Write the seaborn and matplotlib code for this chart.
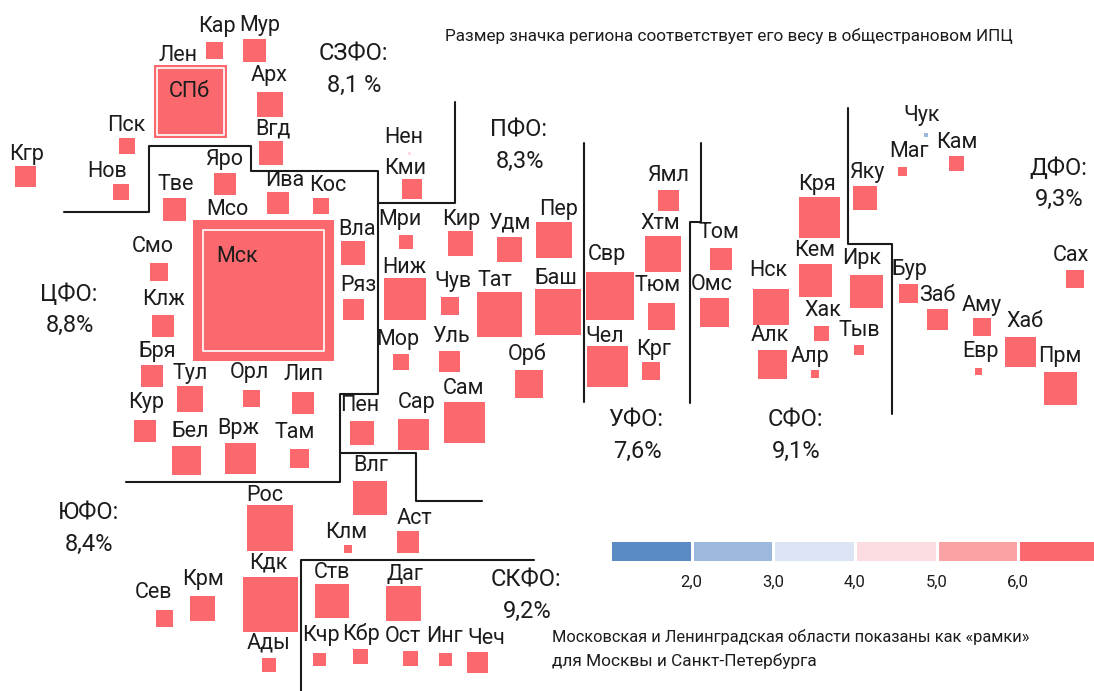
import numpy as np
import pandas as pd
import seaborn as sns
import matplotlib.pyplot as plt

# tile map of regions: grid coordinates are in reference pixels
REGIONS = ['Кар', 'Мур', 'Лен', 'Арх', 'Вгд', 'Пск', 'Нов', 'Кгр', 'Тве', 'Яро', 'Ива', 'Кос', 'Мск',
           'Смо', 'Клж', 'Вла', 'Ряз', 'Бря', 'Тул', 'Орл', 'Лип', 'Кур', 'Бел', 'Врж', 'Там',
           'Нен', 'Кми', 'Мри', 'Ниж', 'Кир', 'Удм', 'Пер', 'Чув', 'Тат', 'Баш', 'Мор', 'Уль', 'Орб',
           'Сам', 'Пен', 'Сар', 'Влг', 'Рос', 'Клм', 'Аст', 'Крм', 'Сев', 'Кдк', 'Ады', 'Ств',
           'Даг', 'Кчр', 'Кбр', 'Ост', 'Инг', 'Чеч', 'Свр', 'Ямл', 'Хтм', 'Тюм', 'Чел', 'Крг',
           'Том', 'Омс', 'Кря', 'Нск', 'Кем', 'Хак', 'Алк', 'Алр', 'Тыв', 'Ирк', 'Яку', 'Маг',
           'Чук', 'Кам', 'Бур', 'Заб', 'Аму', 'Евр', 'Хаб', 'Прм', 'Сах']
GRID_X = [214.5, 254, 190, 270, 271, 127, 121, 25, 174, 225, 278, 321, 263.5,
          158.5, 162.5, 353, 353, 151.5, 190, 251.5, 302.5, 145, 186.5, 240.5, 299,
          409.5, 412, 406, 405, 460, 509.5, 554, 449.5, 499.5, 558, 401, 449.5, 528.5,
          464, 361.5, 413.5, 370, 270, 348, 408, 202.5, 164.5, 270, 269, 332,
          403.5, 319.5, 360.5, 410.5, 445, 477.5, 610, 668.5, 663, 661, 607, 651,
          721, 714.5, 819.5, 771, 815, 821.5, 772.5, 815, 859, 866.5, 865, 902.5,
          926, 956.5, 908.5, 937, 981.5, 978, 1020.5, 1060.5, 1074.5]
GRID_Y = [50, 50, 101.5, 104.5, 153, 146, 192, 176, 209, 184, 203, 206, 290,
          271.5, 326, 253, 309, 376, 399, 398.5, 403, 431, 460.5, 458.5, 458.5,
          153, 189, 242, 298.5, 243.5, 249.5, 240, 306, 314, 312, 362, 361.5, 383.5,
          422, 433, 434.5, 498, 528, 549, 542, 608.5, 618, 604.5, 665, 601,
          603.5, 659, 656.5, 658, 659.5, 662.5, 295.5, 200, 253.5, 316, 366.5, 371,
          259, 312.5, 217.5, 306.5, 280.5, 333.5, 364, 374, 349.5, 291.5, 197.5, 171.5,
          135, 163.5, 293.5, 319, 326.5, 371, 352, 388.5, 278.5]
# square side follows the region's CPI weight
WEIGHT_SIDE = [17, 23, 73, 25.5, 24, 16, 16, 21, 23, 22, 22, 16, 141,
               18, 22, 24, 21, 22, 26, 17, 22, 22, 29, 31, 19,
               3, 20, 14, 42, 25, 25, 36, 18, 45, 46, 16, 21, 28,
               41, 24, 31, 34, 46, 8, 22, 25, 17, 55, 14, 34,
               35, 13, 15, 15, 13, 21, 48, 21, 36, 27, 41, 18,
               22, 29, 41, 36, 33, 15, 29, 8, 10, 33, 24, 9.5,
               4.5, 15, 19, 21, 18, 7, 30.5, 33, 18]
# nearly every region is in the top inflation bucket
BUCKET = [6] * len(REGIONS)
BUCKET[REGIONS.index('Чук')] = 2
BUCKET[REGIONS.index('Нен')] = 4

LABELS = ['Кар', 'Мур', 'Лен', 'СПб', 'Арх', 'Вгд', 'Пск', 'Нов', 'Кгр', 'Тве', 'Яро', 'Мсо', 'Ива', 'Кос', 'Мск',
          'Смо', 'Клж', 'Бря', 'Тул', 'Орл', 'Лип', 'Кур', 'Бел', 'Врж', 'Там', 'Вла', 'Ряз', 'Нен', 'Кми', 'Мри',
          'Ниж', 'Кир', 'Удм', 'Пер', 'Чув', 'Тат', 'Баш', 'Мор', 'Уль', 'Орб', 'Сам', 'Пен', 'Сар', 'Влг', 'Рос',
          'Клм', 'Аст', 'Крм', 'Сев', 'Кдк', 'Ады', 'Ств', 'Даг', 'Кчр', 'Кбр', 'Ост', 'Инг', 'Чеч', 'Свр', 'Ямл',
          'Хтм', 'Тюм', 'Чел', 'Крг', 'Том', 'Омс', 'Кря', 'Нск', 'Кем', 'Хак', 'Алк', 'Алр', 'Тыв', 'Ирк', 'Яку',
          'Маг', 'Чук', 'Кам', 'Бур', 'Заб', 'Аму', 'Евр', 'Хаб', 'Прм', 'Сах']
LABEL_X = [217, 260, 178, 189, 269, 273, 126, 107, 27, 176, 224, 227, 285, 328, 237,
           153, 163, 157, 190, 249, 303, 146, 190, 238, 295, 357, 358, 404, 405, 400,
           404, 461, 509, 559, 453, 495, 556, 398, 451, 527, 464, 360, 417, 371, 265,
           346, 414, 203, 154, 268, 269, 332, 405, 321, 361, 403, 444, 486, 607, 668,
           660, 658, 605, 654, 719, 712, 817, 768, 815, 823, 770, 810, 859, 862, 867,
           909, 922, 957, 909, 937, 982, 981, 1025, 1060, 1071]
LABEL_Y = [26, 25, 55, 91, 75, 129, 125, 171, 154, 184, 159, 209, 180, 185, 256,
           246, 299, 351, 373, 372, 374, 402, 431, 428, 432, 229, 285, 137, 168, 219,
           267, 219, 223, 209, 281, 280, 278, 339, 336, 354, 388, 405, 402, 465, 495,
           532, 519, 580, 593, 563, 643, 572, 574, 636, 634, 636, 637, 638, 254, 175,
           223, 285, 336, 349, 232, 284, 184, 270, 250, 310, 335, 356, 330, 258, 172,
           151, 115, 142, 269, 295, 305, 351, 321, 356, 255]

DISTRICTS = ['СЗФО:', 'ЦФО:', 'ПФО:', 'УФО:', 'СФО:', 'ДФО:', 'ЮФО:', 'СКФО:']
DISTRICT_CPI = ['8,1 %', '8,8%', '8,3%', '7,6%', '9,1%', '9,3%', '8,4%', '9,2%']
DISTRICT_X = [353, 69, 519, 636, 795, 1058, 88, 526]
DISTRICT_Y = [54, 294, 130, 420, 420, 168, 513, 580]

BOUNDARIES = [
    [(64, 212), (149, 212), (149, 146), (251, 146), (251, 171), (378, 171), (378, 394), (340, 394), (340, 482), (126, 482)],
    [(378, 203), (455, 203), (455, 102)],
    [(340, 453), (416, 453), (416, 501), (482, 501)],
    [(584, 143), (584, 402)],
    [(701, 143), (701, 222), (690, 222), (690, 403)],
    [(848, 108), (848, 244), (892, 244), (892, 414)],
    [(300.5, 691), (300.5, 560), (534, 560)],
]

SCALE_VALUES = [[1, 2, 3, 4, 5, 6]]
SCALE_TICKS = ['2,0', '3,0', '4,0', '5,0', '6,0']
BUCKET_COLORS = ['#5B8BC5', '#9CB8DC', '#DCE5F4', '#FBDCE1', '#FBA2A4', '#FB696E']

FRAME_REGIONS = ['Мск', 'Лен']
FRAME_SIDE = [121, 67]

INK = '#1c1c1c'
PX = 0.72  # points per pixel at dpi=100


def main():
    sns.set_theme(style='white')
    plt.rcParams['font.family'] = ['Roboto', 'DejaVu Sans']

    fig = plt.figure(figsize=(10.94, 6.91), dpi=100)
    ax = fig.add_axes([0, 0, 1, 1])

    df = pd.DataFrame({'code': REGIONS, 'x': GRID_X, 'y': GRID_Y, 'side': WEIGHT_SIDE, 'bucket': BUCKET})
    sides = {s: (s * PX) ** 2 for s in df['side'].unique()}
    palette = {i + 1: c for i, c in enumerate(BUCKET_COLORS)}
    sns.scatterplot(data=df, x='x', y='y', hue='bucket', palette=palette, size='side', sizes=sides,
                    marker='s', linewidth=0, legend=False, ax=ax)

    # white frames inside Moscow and St Petersburg squares
    frames = df[df['code'].isin(FRAME_REGIONS)].set_index('code').loc[FRAME_REGIONS]
    ax.scatter(frames['x'], frames['y'], s=[(s * PX) ** 2 for s in FRAME_SIDE], marker='s',
               facecolors='none', edgecolors='white', linewidths=1.2)

    for path in BOUNDARIES:
        xs, ys = zip(*path)
        sns.lineplot(x=list(xs), y=list(ys), sort=False, estimator=None, color='#1a1a1a', linewidth=1.5, ax=ax)

    for name, x, y in zip(LABELS, LABEL_X, LABEL_Y):
        ax.text(x, y, name, ha='center', va='center', fontsize=15.5, color=INK)
    for name, cpi, x, y in zip(DISTRICTS, DISTRICT_CPI, DISTRICT_X, DISTRICT_Y):
        ax.text(x, y, name, ha='center', va='center', fontsize=17, color=INK)
        ax.text(x + 1, y + 31, cpi, ha='center', va='center', fontsize=17, color=INK)

    ax.text(445, 36, 'Размер значка региона соответствует его весу в общестрановом ИПЦ',
            ha='left', va='center', fontsize=12.3, color=INK)
    ax.text(552, 637, 'Московская и Ленинградская области показаны как «рамки»',
            ha='left', va='center', fontsize=11.8, color=INK)
    ax.text(552, 661, 'для Москвы и Санкт-Петербурга', ha='left', va='center', fontsize=12.4, color=INK)

    ax.set_xlim(0, 1094)
    ax.set_ylim(691, 0)
    ax.set_xlabel('')
    ax.set_ylabel('')
    ax.axis('off')

    # colour scale, the last cell runs off the right edge
    cax = fig.add_axes([610 / 1094, 1 - 562 / 691, 490 / 1094, 22 / 691])
    sns.heatmap(np.array(SCALE_VALUES), cmap=BUCKET_COLORS, cbar=False, linewidths=0.8, linecolor='white',
                xticklabels=False, yticklabels=False, ax=cax)
    cax.set_xticks(np.arange(1, 6))
    cax.set_xticklabels(SCALE_TICKS, fontsize=12, color=INK)
    cax.tick_params(axis='x', length=0, pad=9)

    fig.savefig('out.png', dpi=100)


if __name__ == '__main__':
    main()
